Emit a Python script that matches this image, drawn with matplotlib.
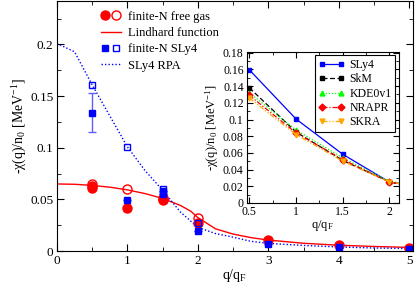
import matplotlib
matplotlib.use('Agg')
import matplotlib.pyplot as plt
from matplotlib.lines import Line2D
from matplotlib.legend_handler import HandlerTuple
from matplotlib.ticker import MultipleLocator, FormatStrFormatter

plt.rcParams['font.family'] = ['Liberation Serif', 'DejaVu Serif']
plt.rcParams['mathtext.fontset'] = 'custom'
plt.rcParams['mathtext.rm'] = 'Liberation Serif'
plt.rcParams['mathtext.it'] = 'Liberation Serif'

# main panel data
gas_q = [0.5, 0.5, 1.0, 1.5, 1.5, 2.0, 3.0, 4.0, 5.0]
gas_filled = [0.0615, 0.063, 0.042, 0.0495, 0.0505, 0.027, 0.0105, 0.0055, 0.0035]
gas_open_q = [0.5, 1.0, 1.5, 2.0]
gas_open = [0.0647, 0.060, 0.051, 0.032]

lind_q = [0, 0.25, 0.5, 0.75, 1.0, 1.25, 1.5, 1.75, 1.9, 2.0, 2.25, 2.5, 2.75, 3.0, 3.5, 4.0, 4.5, 5.0]
lind_chi = [0.065, 0.0647, 0.0636, 0.0619, 0.0593, 0.0557, 0.051, 0.0443, 0.0386, 0.0325,
            0.0216, 0.0165, 0.0131, 0.0107, 0.0076, 0.0057, 0.0045, 0.0036]

sly_q = [0.5, 1.0, 1.5, 1.5, 2.0, 3.0, 4.0, 5.0]
sly_filled = [0.134, 0.049, 0.0557, 0.058, 0.0195, 0.0065, 0.004, 0.0025]
sly_err = [0.019, 0, 0, 0, 0, 0, 0, 0]
sly_open_q = [0.5, 1.0, 1.5, 2.0]
sly_open = [0.161, 0.101, 0.060, 0.027]

rpa_q = [0, 0.25, 0.5, 0.75, 1.0, 1.25, 1.5, 1.75, 2.0, 2.25, 2.5, 2.75, 3.0, 3.5, 4.0, 4.5, 5.0]
rpa_chi = [0.201, 0.193, 0.161, 0.131, 0.101, 0.078, 0.059, 0.038, 0.023, 0.017, 0.0135,
           0.0095, 0.0075, 0.0055, 0.004, 0.003, 0.0025]

# inset data
ins_q = [0.5, 1.0, 1.5, 2.0, 2.5]
ins_names = ['SLy4', 'SkM', 'KDE0v1', 'NRAPR', 'SKRA']
ins_vals = [
    [0.1596, 0.1006, 0.0583, 0.0250, 0.016],
    [0.138, 0.085, 0.051, 0.025, 0.016],
    [0.132, 0.0874, 0.054, 0.026, 0.016],
    [0.129, 0.084, 0.052, 0.025, 0.016],
    [0.1257, 0.082, 0.050, 0.025, 0.016],
]
ins_colors = ['#0000ff', '#000000', '#00ff00', '#ff0000', '#ffa500']
ins_styles = ['-', (0, (4, 2)), (0, (1, 1.5)), (0, (4, 1.5, 1, 1.5)), (0, (4, 1.5, 1, 1.5, 1, 1.5))]
ins_markers = ['s', 's', '^', 'D', 'v']

fig = plt.figure(figsize=(4.15, 2.87), dpi=100)
ax = fig.add_axes([0.137, 0.125, 0.858, 0.873])

ax.plot(lind_q, lind_chi, color='red', lw=1.0)
ax.plot(rpa_q, rpa_chi, color='blue', lw=1.0, ls=(0, (1, 1.5)))
ax.errorbar(sly_q, sly_filled, yerr=sly_err, fmt='none', ecolor='#5f5fff', elinewidth=1, capsize=3)
ax.plot(gas_q, gas_filled, 'o', color='red', ms=6.5, mec='red')
ax.plot(gas_open_q, gas_open, 'o', mfc='none', mec='red', ms=6.5, mew=1)
ax.plot(sly_q, sly_filled, 's', color='blue', ms=4.5)
ax.plot(sly_open_q, sly_open, 's', mfc='none', mec='blue', ms=4.5, mew=1)

ax.set_xlim(0, 5.05)
ax.set_ylim(0, 0.2425)
ax.xaxis.set_major_locator(MultipleLocator(1))
ax.xaxis.set_minor_locator(MultipleLocator(0.5))
ax.yaxis.set_major_locator(MultipleLocator(0.05))
ax.yaxis.set_minor_locator(MultipleLocator(0.025))
ax.yaxis.set_major_formatter(FormatStrFormatter('%g'))
ax.tick_params(which='both', direction='in', top=True, right=True, labelsize=9.5, pad=2.5)
ax.tick_params(which='major', length=5)
ax.tick_params(which='minor', length=3)
ax.set_xlabel('q/q$_\\mathrm{F}$', fontsize=10, labelpad=0)
ax.set_ylabel('-χ(q)/n$_0$ [MeV$^{-1}$]', fontsize=10, labelpad=1)

h_gas = (Line2D([], [], marker='o', ls='none', color='red', ms=6.5),
         Line2D([], [], marker='o', ls='none', mfc='none', mec='red', ms=6.5))
h_lind = Line2D([], [], color='red', lw=1)
h_sly = (Line2D([], [], marker='s', ls='none', color='blue', ms=4.5),
         Line2D([], [], marker='s', ls='none', mfc='none', mec='blue', ms=4.5))
h_rpa = Line2D([], [], color='blue', lw=1, ls=(0, (1, 1.5)))
ax.legend([h_gas, h_lind, h_sly, h_rpa],
          ['finite-N free gas', 'Lindhard function', 'finite-N SLy4', 'SLy4 RPA'],
          handler_map={tuple: HandlerTuple(ndivide=None, pad=0.2)},
          loc='upper left', bbox_to_anchor=(0.095, 1.0), frameon=False, fontsize=9,
          handlelength=1.6, handletextpad=0.6, labelspacing=0.35, borderaxespad=0.4)

# inset
ins = fig.add_axes([0.594, 0.293, 0.367, 0.526])
for name, vals, c, st, mk in zip(ins_names, ins_vals, ins_colors, ins_styles, ins_markers):
    ins.plot(ins_q, vals, color=c, ls=st, lw=0.9, marker=mk, ms=3.5, label=name)
ins.set_xlim(0.47, 2.1)
ins.set_ylim(0, 0.181)
ins.xaxis.set_major_locator(MultipleLocator(0.5))
ins.xaxis.set_minor_locator(MultipleLocator(0.25))
ins.yaxis.set_major_locator(MultipleLocator(0.02))
ins.yaxis.set_minor_locator(MultipleLocator(0.01))
ins.xaxis.set_major_formatter(FormatStrFormatter('%g'))
ins.yaxis.set_major_formatter(FormatStrFormatter('%g'))
ins.tick_params(which='both', direction='in', top=True, right=True, labelsize=8.5, pad=2)
ins.tick_params(which='major', length=4)
ins.tick_params(which='minor', length=2)
ins.set_xlabel('q/q$_\\mathrm{F}$', fontsize=9, labelpad=0)
ins.set_ylabel('-χ(q)/n$_0$ [MeV$^{-1}$]', fontsize=9, labelpad=1)
leg = ins.legend(loc='upper right', fontsize=8.5, numpoints=2, handlelength=2.2,
                 handletextpad=0.4, labelspacing=0.2, borderaxespad=0.3, borderpad=0.3,
                 fancybox=False, edgecolor='black', framealpha=1)
leg.get_frame().set_linewidth(0.8)

fig.savefig('out.png', dpi=100)
